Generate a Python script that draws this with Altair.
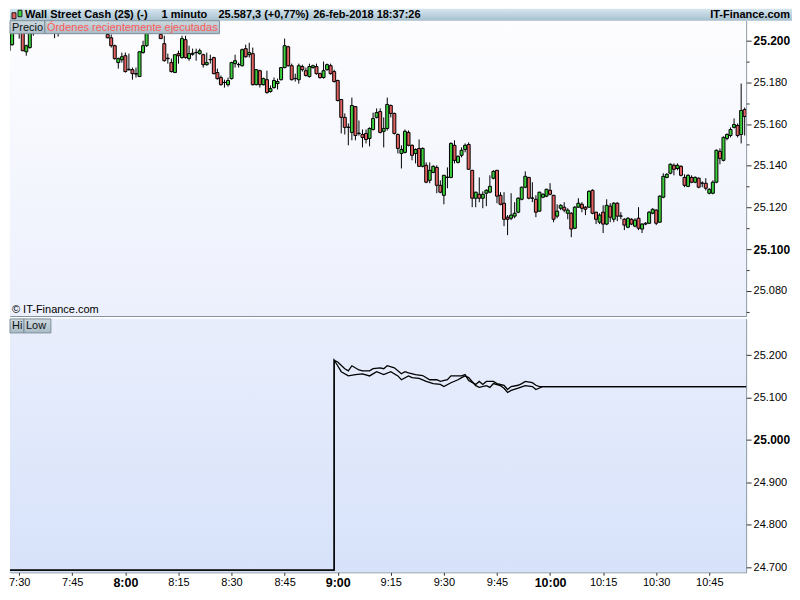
import altair as alt
import pandas as pd

# ---------------- data ----------------
first_bar = "7:26"
axis_origin = "7:30"

opens = [
    25200.5, 25195.2, 25198.1, 25204.0, 25206.0, 25204.0, 25194.7, 25196.7, 25205.0, 25208.0,
    25209.5, 25207.5, 25206.0, 25208.5, 25204.5, 25205.5, 25207.0, 25209.0, 25211.5, 25209.0,
    25207.5, 25210.0, 25212.5, 25211.0, 25208.5, 25207.0, 25209.0, 25208.0, 25206.0, 25203.0,
    25201.4, 25197.6, 25189.5, 25190.9, 25192.8, 25186.1, 25186.1, 25184.0, 25182.8, 25194.3,
    25197.6, 25203.5, 25206.5, 25205.0, 25203.0, 25198.6, 25191.4, 25189.5, 25184.7, 25193.8,
    25191.9, 25200.5, 25191.4, 25193.5, 25194.3, 25193.8, 25193.3, 25188.5, 25190.9, 25191.9,
    25184.7, 25182.3, 25179.9, 25178.9, 25181.8, 25189.0, 25188.5, 25188.0, 25196.2, 25193.3,
    25193.8, 25178.9, 25185.6, 25178.9, 25181.3, 25175.6, 25177.5, 25179.4, 25181.3, 25187.1,
    25197.1, 25188.0, 25181.8, 25181.3, 25187.6, 25185.6, 25182.8, 25187.1, 25187.6, 25184.2,
    25182.3, 25186.1, 25188.0, 25185.2, 25180.9, 25171.8, 25163.2, 25158.4, 25156.0, 25168.4,
    25155.5, 25155.0, 25155.5, 25153.1, 25157.4, 25163.2, 25166.0, 25156.5, 25157.9, 25168.9,
    25165.1, 25155.0, 25145.9, 25146.4, 25156.0, 25149.8, 25145.9, 25148.3, 25139.7, 25140.2,
    25133.0, 25136.8, 25139.2, 25130.6, 25125.8, 25134.4, 25134.4, 25149.8, 25141.6, 25145.0,
    25147.8, 25150.2, 25137.8, 25124.4, 25126.3, 25124.4, 25126.8, 25127.3, 25134.0, 25137.8,
    25125.8, 25122.0, 25115.3, 25114.8, 25115.8, 25117.7, 25123.9, 25129.7, 25134.4, 25124.4,
    25123.9, 25118.2, 25124.9, 25125.4, 25128.2, 25125.8, 25115.8, 25119.6, 25120.1, 25117.2,
    25117.2, 25110.0, 25120.1, 25121.5, 25120.1, 25120.1, 25128.2, 25117.7, 25112.9, 25117.7,
    25112.0, 25120.6, 25114.3, 25122.0, 25115.8, 25114.3, 25110.5, 25114.3, 25111.0, 25114.8,
    25109.6, 25112.0, 25112.4, 25117.2, 25118.7, 25112.9, 25124.9, 25134.4, 25136.4, 25140.2,
    25138.7, 25139.7, 25134.4, 25130.1, 25134.4, 25132.1, 25134.0, 25131.6, 25131.6, 25126.8,
    25126.8, 25132.1, 25146.9, 25142.6, 25153.1, 25154.5, 25158.4, 25159.3, 25155.0, 25167.0,
]
highs = [
    25204.5, 25201.0, 25205.0, 25208.0, 25207.0, 25205.0, 25198.1, 25205.5, 25209.0, 25211.0,
    25212.0, 25210.0, 25209.5, 25210.0, 25207.0, 25209.0, 25210.0, 25212.5, 25213.0, 25211.0,
    25210.5, 25214.0, 25214.5, 25213.0, 25210.0, 25209.5, 25211.0, 25209.0, 25208.0, 25205.0,
    25203.0, 25198.1, 25191.9, 25194.3, 25194.3, 25193.8, 25187.1, 25187.1, 25194.7, 25200.0,
    25205.0, 25208.0, 25209.0, 25207.0, 25205.0, 25202.4, 25193.8, 25191.4, 25193.3, 25195.2,
    25202.4, 25202.4, 25197.6, 25196.2, 25196.2, 25196.2, 25193.8, 25194.3, 25193.3, 25192.3,
    25186.6, 25183.3, 25181.3, 25182.3, 25189.9, 25193.3, 25189.5, 25196.2, 25198.1, 25199.0,
    25196.7, 25186.4, 25186.1, 25182.3, 25185.6, 25178.5, 25182.3, 25181.8, 25187.3, 25201.0,
    25197.6, 25189.0, 25184.2, 25189.0, 25188.5, 25187.1, 25189.0, 25188.5, 25189.0, 25184.7,
    25190.0, 25189.0, 25189.0, 25186.1, 25181.3, 25172.0, 25165.1, 25160.3, 25172.7, 25168.6,
    25161.7, 25157.4, 25157.4, 25158.4, 25165.5, 25167.5, 25167.5, 25163.2, 25172.7, 25169.4,
    25165.5, 25155.5, 25149.8, 25157.4, 25156.9, 25150.2, 25148.3, 25152.6, 25148.8, 25141.6,
    25141.6, 25140.2, 25140.2, 25133.0, 25135.6, 25139.2, 25151.2, 25152.2, 25145.0, 25148.8,
    25150.7, 25151.2, 25138.0, 25127.5, 25134.4, 25127.7, 25128.7, 25135.4, 25137.8, 25138.0,
    25127.3, 25127.3, 25116.3, 25126.8, 25122.5, 25124.9, 25129.9, 25137.3, 25134.6, 25132.1,
    25125.8, 25127.5, 25126.8, 25128.9, 25131.6, 25126.0, 25121.5, 25121.5, 25122.5, 25119.6,
    25117.7, 25120.6, 25124.4, 25122.5, 25120.6, 25128.2, 25128.7, 25117.9, 25117.2, 25121.0,
    25123.9, 25122.0, 25122.5, 25122.5, 25117.7, 25114.8, 25115.3, 25114.8, 25114.8, 25120.1,
    25112.4, 25112.9, 25118.2, 25119.6, 25119.1, 25125.8, 25136.4, 25136.4, 25141.1, 25141.1,
    25141.1, 25140.2, 25135.9, 25135.9, 25135.4, 25134.9, 25134.4, 25132.5, 25134.0, 25129.2,
    25133.0, 25147.8, 25148.3, 25154.1, 25155.5, 25158.4, 25162.7, 25160.3, 25179.4, 25167.9,
]
lows = [
    25195.2, 25194.7, 25197.6, 25203.5, 25201.0, 25195.0, 25192.8, 25196.2, 25202.4, 25206.0,
    25207.0, 25205.0, 25204.5, 25204.0, 25201.2, 25202.0, 25205.0, 25208.0, 25208.5, 25206.5,
    25206.0, 25209.0, 25210.0, 25208.0, 25206.0, 25205.5, 25207.0, 25205.0, 25204.0, 25201.2,
    25196.7, 25190.9, 25186.6, 25189.5, 25184.7, 25185.6, 25181.3, 25182.3, 25182.8, 25193.8,
    25197.1, 25203.5, 25204.5, 25203.8, 25200.8, 25190.0, 25189.0, 25184.7, 25184.7, 25189.0,
    25191.4, 25191.4, 25190.4, 25192.8, 25190.4, 25193.3, 25187.1, 25188.0, 25189.0, 25183.8,
    25181.3, 25178.5, 25177.5, 25178.0, 25181.4, 25187.1, 25187.1, 25187.6, 25191.9, 25191.9,
    25178.5, 25178.6, 25177.5, 25178.5, 25174.6, 25175.1, 25177.0, 25176.6, 25180.9, 25186.8,
    25187.6, 25180.9, 25180.4, 25179.4, 25185.2, 25182.8, 25182.3, 25186.6, 25183.7, 25181.8,
    25181.8, 25185.6, 25183.7, 25179.9, 25170.8, 25155.5, 25155.0, 25149.8, 25152.2, 25152.2,
    25154.5, 25148.8, 25150.7, 25149.3, 25156.9, 25162.7, 25155.5, 25148.8, 25156.9, 25163.2,
    25155.0, 25145.9, 25138.7, 25145.9, 25149.3, 25142.6, 25141.1, 25139.5, 25139.2, 25131.6,
    25131.6, 25136.4, 25126.8, 25126.8, 25121.5, 25129.2, 25134.0, 25141.1, 25141.1, 25144.0,
    25146.4, 25138.1, 25120.1, 25120.1, 25122.5, 25119.6, 25120.6, 25126.8, 25133.5, 25122.0,
    25121.0, 25111.0, 25106.7, 25113.9, 25114.8, 25117.2, 25123.4, 25129.2, 25123.9, 25122.5,
    25115.3, 25118.0, 25124.4, 25124.9, 25125.8, 25112.9, 25114.8, 25118.7, 25117.7, 25114.3,
    25105.7, 25109.6, 25119.9, 25117.7, 25116.3, 25119.9, 25116.7, 25112.0, 25112.0, 25107.7,
    25111.5, 25112.9, 25112.9, 25113.4, 25114.3, 25109.1, 25110.0, 25111.5, 25110.5, 25109.1,
    25107.7, 25111.5, 25112.0, 25116.7, 25111.5, 25112.7, 25124.4, 25134.0, 25135.9, 25135.4,
    25137.8, 25134.9, 25129.7, 25129.7, 25131.6, 25131.6, 25129.2, 25129.7, 25128.2, 25126.3,
    25126.3, 25131.6, 25140.7, 25142.1, 25152.2, 25153.6, 25157.9, 25153.6, 25150.7, 25154.5,
]
closes = [
    25196.2, 25198.6, 25203.5, 25206.0, 25204.5, 25195.2, 25197.6, 25204.0, 25208.0, 25209.5,
    25207.5, 25206.0, 25208.5, 25205.0, 25205.5, 25207.0, 25209.0, 25211.5, 25209.0, 25207.5,
    25210.0, 25212.5, 25211.0, 25208.5, 25207.0, 25209.0, 25208.0, 25206.0, 25204.5, 25201.4,
    25197.6, 25191.4, 25191.4, 25192.3, 25185.2, 25186.3, 25184.2, 25184.2, 25194.7, 25197.6,
    25203.5, 25206.5, 25205.0, 25204.5, 25201.0, 25190.4, 25191.6, 25185.2, 25193.3, 25192.8,
    25201.0, 25191.9, 25193.8, 25194.0, 25194.4, 25195.2, 25188.5, 25189.5, 25191.0, 25184.2,
    25181.8, 25178.9, 25180.0, 25180.9, 25189.5, 25190.4, 25188.6, 25195.7, 25192.3, 25194.3,
    25178.9, 25186.1, 25178.9, 25181.8, 25175.1, 25177.0, 25180.9, 25180.4, 25187.1, 25197.6,
    25188.0, 25181.3, 25181.9, 25188.0, 25186.1, 25183.3, 25187.6, 25188.0, 25184.2, 25182.3,
    25185.6, 25188.5, 25184.2, 25180.4, 25171.3, 25163.2, 25158.4, 25158.5, 25168.9, 25154.5,
    25155.6, 25153.6, 25152.6, 25157.9, 25162.7, 25165.5, 25156.0, 25157.9, 25169.4, 25165.1,
    25155.5, 25148.3, 25147.8, 25156.5, 25149.8, 25145.0, 25147.8, 25139.7, 25148.3, 25132.1,
    25137.8, 25139.7, 25130.6, 25127.3, 25135.4, 25134.5, 25150.7, 25142.6, 25144.5, 25147.4,
    25149.8, 25138.3, 25124.4, 25127.3, 25124.4, 25126.3, 25128.2, 25130.1, 25137.3, 25125.4,
    25121.5, 25114.3, 25114.3, 25116.3, 25117.2, 25124.4, 25129.7, 25134.9, 25124.4, 25124.5,
    25117.7, 25127.3, 25126.3, 25128.7, 25126.3, 25114.3, 25118.2, 25121.0, 25118.7, 25118.7,
    25109.6, 25120.1, 25122.0, 25119.6, 25119.1, 25127.7, 25117.2, 25114.3, 25116.3, 25112.0,
    25121.0, 25115.3, 25122.0, 25115.8, 25115.9, 25111.5, 25114.8, 25112.0, 25113.9, 25110.0,
    25112.0, 25112.4, 25117.7, 25119.1, 25112.4, 25125.4, 25134.9, 25135.9, 25140.7, 25138.3,
    25140.2, 25135.4, 25130.6, 25135.4, 25132.1, 25134.4, 25129.7, 25131.7, 25129.2, 25128.7,
    25132.1, 25147.4, 25143.5, 25153.6, 25155.0, 25157.4, 25159.8, 25154.5, 25166.5, 25163.6,
]

# Hi / Low indicator (minutes after 7:30, value)
hi_minutes = [-4, 89, 89, 90, 92, 93, 94, 96, 97, 99, 100, 102, 103, 104, 106, 108, 109, 110, 112,
              114, 116, 118, 119, 121, 122, 124, 125, 126, 127, 129, 130, 131, 132, 134, 135, 137,
              138, 139, 141, 142, 143, 145, 146, 147, 148, 206]
hi_values = [24693, 24693, 25188, 25184, 25168, 25163, 25175, 25165, 25163, 25163, 25168, 25170,
             25168, 25175, 25170, 25156, 25161, 25158, 25154, 25152, 25142, 25142, 25138, 25142,
             25151, 25151, 25151, 25154, 25140, 25131, 25138, 25131, 25138, 25138, 25133, 25129,
             25119, 25126, 25129, 25133, 25138, 25135, 25129, 25126, 25126, 25126]
low_minutes = [-4, 89, 89, 90, 91, 93, 95, 97, 99, 101, 103, 105, 107, 108, 110, 111, 113, 115, 117,
               119, 120, 122, 124, 125, 126, 127, 129, 130, 132, 133, 134, 136, 137, 138, 139, 141,
               143, 145, 146, 148, 206]
low_values = [24693, 24693, 25188, 25175, 25161, 25151, 25154, 25156, 25151, 25161, 25154, 25161,
              25151, 25142, 25151, 25147, 25145, 25138, 25133, 25131, 25126, 25135, 25142, 25147,
              25151, 25147, 25128, 25124, 25128, 25124, 25133, 25128, 25122, 25112, 25117, 25122,
              25128, 25126, 25119, 25126, 25126]

time_tick_labels = ["7:30", "7:45", "8:00", "8:15", "8:30", "8:45", "9:00", "9:15", "9:30",
                    "9:45", "10:00", "10:15", "10:30", "10:45"]
upper_tick_labels = ["25.080", "25.100", "25.120", "25.140", "25.160", "25.180", "25.200"]
lower_tick_labels = ["24.700", "24.800", "24.900", "25.000", "25.100", "25.200"]

title_texts = ["Wall Street Cash (2$) (-)", "1 minuto", "25.587,3 (+0,77%)", "26-feb-2018 18:37:26"]
site_text = "IT-Finance.com"

# ---------------- helpers ----------------
def to_min(s):
    h, m = s.split(":")
    return int(h) * 60 + int(m)

def price_of(label):
    return float(label.replace(".", ""))

def js_nums(vals):
    return "[" + ",".join(str(int(round(v))) for v in vals) + "]"

def js_strs(strs):
    return "[" + ",".join("'" + s + "'" for s in strs) + "]"

origin = to_min(axis_origin)
start = to_min(first_bar) - origin
minutes = [start + i for i in range(len(opens))]

candles = pd.DataFrame({"m": minutes, "open": opens, "high": highs, "low": lows, "close": closes})
candles["dir"] = ["up" if c >= o else "down" for o, c in zip(opens, closes)]

rows = []
for i, (m, v) in enumerate(zip(hi_minutes, hi_values)):
    rows.append({"series": "Hi", "m": m, "v": v, "idx": i})
for i, (m, v) in enumerate(zip(low_minutes, low_values)):
    rows.append({"series": "Low", "m": m, "v": v, "idx": i})
lines_df = pd.DataFrame(rows)

deco = pd.DataFrame({"k": [0]})

# ---------------- layout constants ----------------
FONT = "Liberation Sans"
FULL_W = 784
TITLE_H = 12
W = 738
H_TOP = 296
H_BOT = 254
X_DOMAIN = [-2.6, 205.4]
UP_DOMAIN = [25067.9, 25209.6]
LO_DOMAIN = [24687.8, 25285.4]
GREEN = "#3ccf3c"
RED = "#e26060"
BORDER = "#7f909c"


def vgrad(top, bottom):
    return alt.LinearGradient(
        gradient="linear",
        stops=[alt.GradientStop(color=top, offset=0), alt.GradientStop(color=bottom, offset=1)],
        x1=0, x2=0, y1=0, y2=1,
    )


def box(x0, x1, y0, y1):
    return alt.Chart(deco).mark_rect(fill=vgrad("#cdd9df", "#a9bcc6"), stroke="#7d8f9b", strokeWidth=1).encode(
        x=alt.value(x0), x2=alt.value(x1), y=alt.value(y0), y2=alt.value(y1))


def label(txt, x, y, color="#111", size=11, weight="normal", align="left"):
    return alt.Chart(deco).mark_text(align=align, baseline="middle", font=FONT, fontSize=size,
                                     fontWeight=weight, color=color).encode(
        x=alt.value(x), y=alt.value(y), text=alt.value(txt))


# ---------------- axes ----------------
up_major = [price_of(s) for s in upper_tick_labels]
up_minor = [v - 10 for v in up_major]
up_vals = sorted(set(up_major + up_minor))
up_js = js_nums(up_major)
up_is_major = f"indexof({up_js}, datum.value) >= 0"
axis_up = alt.Axis(
    orient="right", values=up_vals, title=None, grid=False, domain=False,
    labelExpr=f"{up_is_major} ? {js_strs(upper_tick_labels)}[indexof({up_js}, datum.value)] : ''",
    tickColor="#333",
    tickSize={"condition": {"test": up_is_major, "value": 5}, "value": 3},
    labelFontWeight={"condition": {"test": "datum.value % 100 === 0", "value": "bold"}, "value": "normal"},
    labelFontSize={"condition": {"test": "datum.value % 100 === 0", "value": 12}, "value": 11},
    labelPadding=2, labelColor="#000", labelFont=FONT, labelOverlap=False, labelFlush=False,
)

lo_major = [price_of(s) for s in lower_tick_labels]
lo_js = js_nums(lo_major)
axis_lo = alt.Axis(
    orient="right", values=lo_major, title=None, grid=False, domain=False,
    labelExpr=f"{js_strs(lower_tick_labels)}[indexof({lo_js}, datum.value)]",
    tickColor="#333", tickSize=5,
    labelFontWeight={"condition": {"test": "datum.value % 1000 === 0", "value": "bold"}, "value": "normal"},
    labelFontSize={"condition": {"test": "datum.value % 1000 === 0", "value": 12}, "value": 11},
    labelPadding=2, labelColor="#000", labelFont=FONT, labelOverlap=False, labelFlush=False,
)

t_vals = [to_min(s) - origin for s in time_tick_labels]
t_js = js_nums(t_vals)
hour_js = js_nums([to_min(s) - origin for s in time_tick_labels if s.endswith(":00")])
axis_x = alt.Axis(
    values=t_vals, title=None, grid=False, domain=False,
    labelExpr=f"{js_strs(time_tick_labels)}[indexof({t_js}, datum.value)]",
    tickColor="#333", tickSize=3,
    labelFontWeight={"condition": {"test": f"indexof({hour_js}, datum.value) >= 0", "value": "bold"}, "value": "normal"},
    labelFontSize={"condition": {"test": f"indexof({hour_js}, datum.value) >= 0", "value": 12.5}, "value": 11},
    labelPadding=1, labelColor="#000", labelFont=FONT, labelOverlap=False, labelFlush=False,
)

x_scale = alt.Scale(domain=X_DOMAIN, nice=False, zero=False, padding=0)
y_up_scale = alt.Scale(domain=UP_DOMAIN, nice=False, zero=False, padding=0)
y_lo_scale = alt.Scale(domain=LO_DOMAIN, nice=False, zero=False, padding=0)

# ---------------- title bar ----------------
title_bg = alt.Chart(deco).mark_rect(fill=vgrad("#d6e6ef", "#a6c0cf")).encode(
    x=alt.value(0), x2=alt.value(FULL_W), y=alt.value(0), y2=alt.value(TITLE_H))
icon_r = alt.Chart(deco).mark_rect(fill=RED, stroke="#000", strokeWidth=0.8).encode(
    x=alt.value(2), x2=alt.value(6), y=alt.value(4), y2=alt.value(10))
icon_g = alt.Chart(deco).mark_rect(fill=GREEN, stroke="#000", strokeWidth=0.8).encode(
    x=alt.value(8), x2=alt.value(12), y=alt.value(1.5), y2=alt.value(8))
title_x = [15, 152, 209, 304]
title_layers = [title_bg, icon_r, icon_g]
for txt, xx in zip(title_texts, title_x):
    title_layers.append(label(txt, xx, 6.5, color="#000", size=11, weight="bold"))
title_layers.append(label(site_text, FULL_W - 2, 6.5, color="#000", size=11, weight="bold", align="right"))
title_bar = alt.layer(*title_layers).properties(
    width=FULL_W, height=TITLE_H, view=alt.ViewBackground(strokeWidth=0))

# ---------------- upper panel ----------------
bg_up = alt.Chart(deco).mark_rect(fill=vgrad("#fdfdff", "#ecf0fc")).encode(
    x=alt.value(0), x2=alt.value(W), y=alt.value(0), y2=alt.value(H_TOP))
wicks = alt.Chart(candles).mark_rule(color="#000", strokeWidth=1, clip=True).encode(
    x=alt.X("m:Q", scale=x_scale, axis=None),
    y=alt.Y("low:Q", scale=y_up_scale, axis=axis_up),
    y2="high:Q",
)
bodies = alt.Chart(candles).mark_bar(size=3, stroke="#000", strokeWidth=1, clip=True).encode(
    x=alt.X("m:Q", scale=x_scale, axis=None),
    y=alt.Y("open:Q", scale=y_up_scale, axis=axis_up),
    y2="close:Q",
    fill=alt.Fill("dir:N", scale=alt.Scale(domain=["up", "down"], range=[GREEN, RED]), legend=None),
)
upper = alt.layer(
    bg_up, wicks, bodies,
    box(0, 35, 0, 13), label("Precio", 2, 7, color="#111"),
    box(35, 210, 0, 13), label("Órdenes recientemente ejecutadas", 37, 7, color="#ff5a5a"),
    label("© IT-Finance.com", 2, 290, color="#000"),
).properties(width=W, height=H_TOP, view=alt.ViewBackground(stroke=BORDER, strokeWidth=1))

# ---------------- lower panel ----------------
bg_lo = alt.Chart(deco).mark_rect(fill=vgrad("#e9eefc", "#d7e2fa")).encode(
    x=alt.value(0), x2=alt.value(W), y=alt.value(0), y2=alt.value(H_BOT))
hl_lines = alt.Chart(lines_df).mark_line(color="#000", strokeWidth=1.3, clip=True).encode(
    x=alt.X("m:Q", scale=x_scale, axis=axis_x),
    y=alt.Y("v:Q", scale=y_lo_scale, axis=axis_lo),
    detail="series:N",
    order="idx:Q",
)
lower = alt.layer(
    bg_lo, hl_lines,
    box(0, 14, 0, 14), label("Hi", 2, 7.5, color="#111"),
    box(14, 41, 0, 14), label("Low", 16, 7.5, color="#111"),
).properties(width=W, height=H_BOT, view=alt.ViewBackground(stroke=BORDER, strokeWidth=1))

chart = alt.vconcat(
    title_bar,
    alt.vconcat(upper, lower, spacing=3, bounds="flush"),
    spacing=0,
    bounds="flush",
).properties(padding=0, background="#ffffff")

chart.save("out.html", embed_options={"renderer": "svg", "actions": False})
